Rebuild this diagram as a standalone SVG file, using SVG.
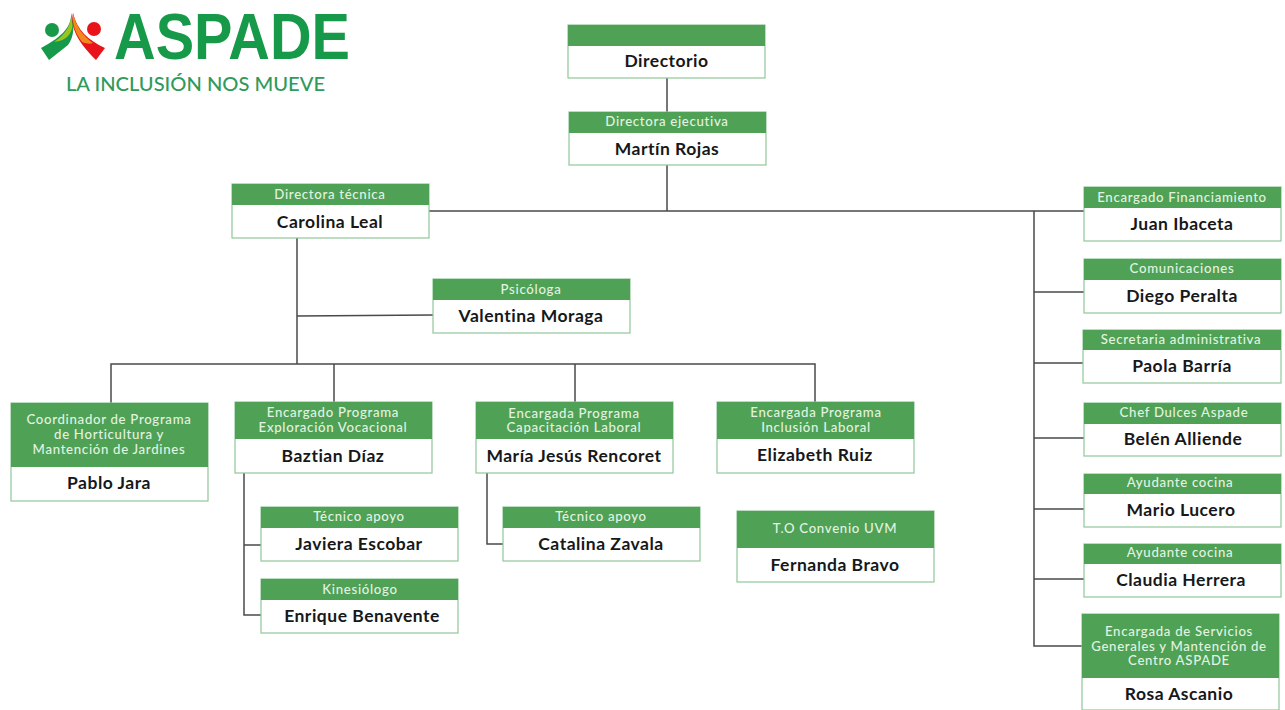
<svg xmlns="http://www.w3.org/2000/svg" width="1285" height="710" viewBox="0 0 1285 710">
<style>
.box{fill:#fff;stroke:#8fc79a;stroke-width:1.2}
.hd{fill:#4ea155}
.t{font-family:"Lato","Liberation Sans",sans-serif;font-size:13.2px;fill:#e3f3e2;text-anchor:middle;letter-spacing:.7px;font-weight:500}
.n{font-family:"Lato","Liberation Sans",sans-serif;font-size:17.5px;fill:#16181a;text-anchor:middle;font-weight:700;letter-spacing:.5px}
.c{fill:none;stroke:#4a4a4a;stroke-width:1.5}
.logo{font-family:"Liberation Sans",sans-serif;fill:#169a4a;font-weight:700}
.tag{font-family:"Lato","Liberation Sans",sans-serif;fill:#2f9a5c;font-weight:500}
</style>
<rect width="1285" height="710" fill="#fff"/>
<g id="logo">
<circle cx="52" cy="30" r="7" fill="#18994a"/>
<circle cx="94" cy="29" r="7" fill="#e8131b"/>
<path d="M71 13C72 25 64 36 41 48L49 60L68 45C74 37 75 25 71 13Z" fill="#169a4a"/>
<path d="M71 13C72 24 66 34 54 42C66 41 72 34 72.500 25Z" fill="#9dc31f"/>
<path d="M73 13C70 28 78 42 96 60L105 48C88 40 77 30 73 13Z" fill="#e8131b"/>
<path d="M73 13C72 24 75 33 82 42C87 44 90 44 93 43C82 35 76 26 73 13Z" fill="#f08a1c"/>
<text class="logo" x="114" y="59" font-size="64" textLength="236" lengthAdjust="spacingAndGlyphs">ASPADE</text>
<text class="tag" x="66" y="91" font-size="20" textLength="259" lengthAdjust="spacingAndGlyphs">LA INCLUSIÓN NOS MUEVE</text>
</g>
<g id="connectors" class="c">
<path class="c" d="M667 78V112M667 165V211M429 211H1084M1034 211V646H1082M1034 292H1084M1034 363H1083M1034 438H1084M1034 509H1084M1034 579H1084"/>
<path class="c" d="M297 238V364M297 316L433 315M111 403V364H815V402M334 364V402M575 364V402"/>
<path class="c" d="M244 473V615H261M244 545H261M487 473V544H503"/>
</g>
<g id="n-directorio"><rect class="box" x="568" y="25" width="197" height="53"/><rect class="hd" x="568" y="25" width="197" height="21"/><text class="n" x="666.500" y="67">Directorio</text></g>
<g id="n-martin"><rect class="box" x="569" y="112" width="197" height="53"/><rect class="hd" x="569" y="112" width="197" height="21"/><text class="t" x="667" y="126">Directora ejecutiva</text><text class="n" x="667" y="155">Martín Rojas</text></g>
<g id="n-carolina"><rect class="box" x="232" y="184" width="197" height="54"/><rect class="hd" x="232" y="184" width="197" height="21"/><text class="t" x="330" y="199">Directora técnica</text><text class="n" x="330" y="228">Carolina Leal</text></g>
<g id="n-valentina"><rect class="box" x="433" y="279" width="197" height="54"/><rect class="hd" x="433" y="279" width="197" height="21"/><text class="t" x="531" y="294">Psicóloga</text><text class="n" x="531" y="322">Valentina Moraga</text></g>
<g id="n-juan"><rect class="box" x="1084" y="187" width="197" height="54"/><rect class="hd" x="1084" y="187" width="197" height="21"/><text class="t" x="1182" y="202">Encargado Financiamiento</text><text class="n" x="1182" y="230">Juan Ibaceta</text></g>
<g id="n-diego"><rect class="box" x="1084" y="259" width="197" height="54"/><rect class="hd" x="1084" y="259" width="197" height="21"/><text class="t" x="1182" y="273">Comunicaciones</text><text class="n" x="1182" y="302">Diego Peralta</text></g>
<g id="n-paola"><rect class="box" x="1083" y="330" width="198" height="53"/><rect class="hd" x="1083" y="330" width="198" height="20"/><text class="t" x="1181" y="344">Secretaria administrativa</text><text class="n" x="1182" y="372">Paola Barría</text></g>
<g id="n-belen"><rect class="box" x="1084" y="403" width="197" height="53"/><rect class="hd" x="1084" y="403" width="197" height="21"/><text class="t" x="1184" y="417">Chef Dulces Aspade</text><text class="n" x="1183" y="445">Belén Alliende</text></g>
<g id="n-mario"><rect class="box" x="1084" y="474" width="197" height="53"/><rect class="hd" x="1084" y="474" width="197" height="20"/><text class="t" x="1180" y="487">Ayudante cocina</text><text class="n" x="1181" y="516">Mario Lucero</text></g>
<g id="n-claudia"><rect class="box" x="1084" y="544" width="197" height="53"/><rect class="hd" x="1084" y="544" width="197" height="20"/><text class="t" x="1180" y="557">Ayudante cocina</text><text class="n" x="1181" y="586">Claudia Herrera</text></g>
<g id="n-rosa"><rect class="box" x="1082" y="614" width="197" height="96"/><rect class="hd" x="1082" y="614" width="197" height="64"/><text class="t" x="1179" y="636">Encargada de Servicios</text><text class="t" x="1179" y="651">Generales y Mantención de</text><text class="t" x="1179" y="665">Centro ASPADE</text><text class="n" x="1179" y="700">Rosa Ascanio</text></g>
<g id="n-pablo"><rect class="box" x="11" y="403" width="197" height="98"/><rect class="hd" x="11" y="403" width="197" height="64"/><text class="t" x="109" y="424">Coordinador de Programa</text><text class="t" x="109" y="439">de Horticultura y</text><text class="t" x="109" y="454">Mantención de Jardines</text><text class="n" x="109" y="489">Pablo Jara</text></g>
<g id="n-baztian"><rect class="box" x="235" y="402" width="197" height="71"/><rect class="hd" x="235" y="402" width="197" height="37"/><text class="t" x="333" y="417">Encargado Programa</text><text class="t" x="333" y="432">Exploración Vocacional</text><text class="n" x="333" y="462">Baztian Díaz</text></g>
<g id="n-maria"><rect class="box" x="476" y="402" width="197" height="71"/><rect class="hd" x="476" y="402" width="197" height="37"/><text class="t" x="574" y="418">Encargada Programa</text><text class="t" x="574" y="432">Capacitación Laboral</text><text class="n" x="574" y="462">María Jesús Rencoret</text></g>
<g id="n-elizabeth"><rect class="box" x="717" y="402" width="197" height="71"/><rect class="hd" x="717" y="402" width="197" height="37"/><text class="t" x="816" y="417">Encargada Programa</text><text class="t" x="816" y="432">Inclusión Laboral</text><text class="n" x="815" y="461">Elizabeth Ruiz</text></g>
<g id="n-javiera"><rect class="box" x="261" y="507" width="197" height="54"/><rect class="hd" x="261" y="507" width="197" height="21"/><text class="t" x="359" y="521">Técnico apoyo</text><text class="n" x="359" y="550">Javiera Escobar</text></g>
<g id="n-enrique"><rect class="box" x="261" y="579" width="197" height="54"/><rect class="hd" x="261" y="579" width="197" height="21"/><text class="t" x="360" y="594">Kinesiólogo</text><text class="n" x="362" y="622">Enrique Benavente</text></g>
<g id="n-catalina"><rect class="box" x="503" y="507" width="197" height="54"/><rect class="hd" x="503" y="507" width="197" height="21"/><text class="t" x="601" y="521">Técnico apoyo</text><text class="n" x="601" y="550">Catalina Zavala</text></g>
<g id="n-fernanda"><rect class="box" x="737" y="511" width="197" height="71"/><rect class="hd" x="737" y="511" width="197" height="37"/><text class="t" x="835" y="533">T.O Convenio UVM</text><text class="n" x="835" y="571">Fernanda Bravo</text></g>
</svg>
